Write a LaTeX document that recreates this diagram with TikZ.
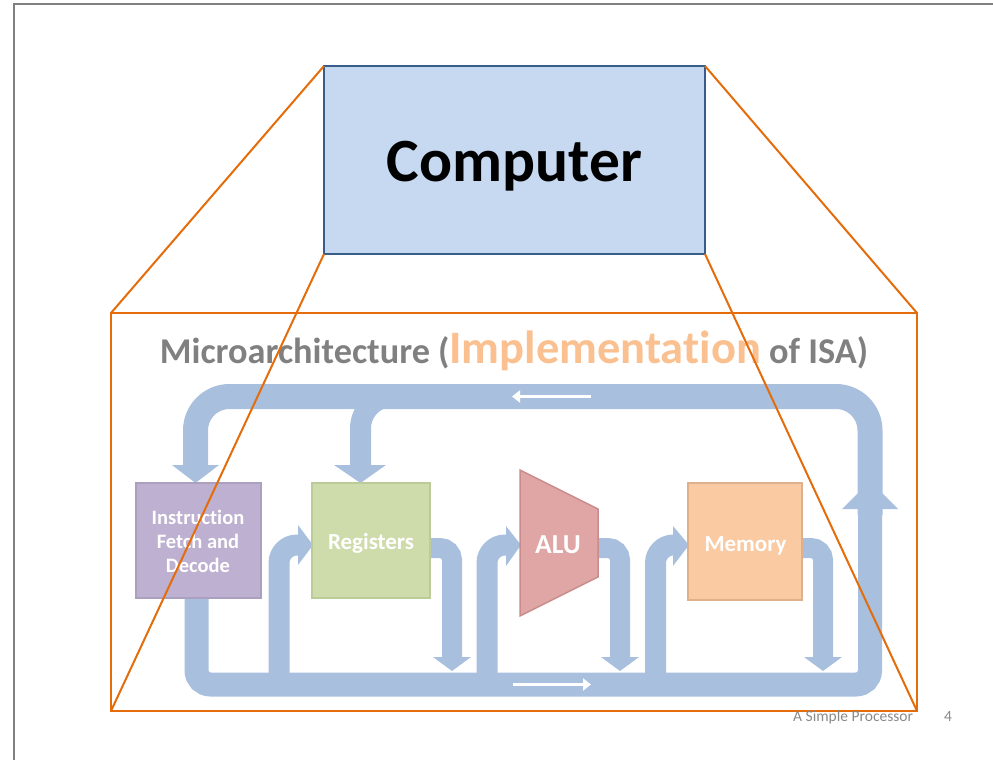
\documentclass[tikz,border=0pt]{standalone}
\usepackage{fontspec}
\setmainfont{Carlito}[Ligatures={NoCommon,NoContextual}]
\usetikzlibrary{arrows.meta}
\definecolor{bus}{RGB}{168,192,222}
\definecolor{orng}{RGB}{228,108,10}
\definecolor{framegray}{RGB}{128,128,128}
\definecolor{compfill}{RGB}{198,217,241}
\definecolor{compdraw}{RGB}{56,93,138}
\definecolor{iffill}{RGB}{190,176,208}
\definecolor{ifdraw}{RGB}{172,160,192}
\definecolor{regfill}{RGB}{206,220,172}
\definecolor{regdraw}{RGB}{188,204,152}
\definecolor{alufill}{RGB}{224,166,166}
\definecolor{aludraw}{RGB}{200,140,140}
\definecolor{memfill}{RGB}{250,202,162}
\definecolor{memdraw}{RGB}{222,176,140}
\definecolor{impl}{RGB}{250,192,144}
\definecolor{titlegray}{RGB}{128,128,128}
\definecolor{footgray}{RGB}{137,137,137}
\tikzset{
  unitbox/.style={anchor=north west, inner sep=0pt, outer sep=0pt, line width=1.5pt},
  unittext/.style={anchor=base, inner sep=0pt, text=white, font=\bfseries\fontsize{23}{25}\selectfont},
  busline/.style={draw=bus, line width=#1},
  bushead/.style={fill=bus},
  zoomline/.style={draw=orng, line width=2pt},
  whitearrow/.style={draw=white, line width=3pt, -{Triangle[width=12pt,length=8pt]}}
}
\begin{document}
\begin{tikzpicture}[x=1pt,y=-1pt]
\useasboundingbox (0,0) rectangle (993,760);
% slide frame
\draw[framegray, line width=2pt] (14,760) -- (14,4) -- (993,4);

% computer box
\node[draw=compdraw, fill=compfill, line width=2pt, anchor=north west, inner sep=0pt, outer sep=0pt,
      minimum width=381pt, minimum height=188pt] (comp) at (324,66) {};
\node[anchor=base, inner sep=0pt, font=\bfseries\fontsize{61.5}{66}\selectfont] (comptext) at (514.5,181) {Computer};

% title
\node[anchor=base, text=titlegray, inner sep=0pt, font=\bfseries\fontsize{36.3}{40}\selectfont] (title) at (514,363)
  {Microarchitecture (\textcolor{impl}{\fontsize{46.5}{50}\selectfont Implementat\kern0pt ion} of ISA)};

% ---- bus ----
% top bus
\draw[busline=25pt, rounded corners=34pt] (870,515) -- (870,396.5) -- (195.5,396.5) -- (195.5,466);
\fill[bushead] (172,465) -- (219,465) -- (195.5,483) -- cycle;
\draw[busline=21pt, rounded corners=32pt] (440,396.5) -- (360.5,396.5) -- (360.5,466);
\fill[bushead] (334,465) -- (386,465) -- (360.5,483) -- cycle;
% bottom bus
\draw[busline=24pt, rounded corners=14pt] (196.5,595) -- (196.5,684.5) -- (870,684.5) -- (870,505);
\fill[bushead] (842,509) -- (898,509) -- (870,481) -- cycle;
% inputs from bottom bus
\draw[busline=21pt, rounded corners=18pt] (279,684) -- (279,545) -- (300,545);
\fill[bushead] (298,525) -- (298,565) -- (313,545) -- cycle;
\draw[busline=21pt, rounded corners=18pt] (487,684) -- (487,545) -- (508,545);
\fill[bushead] (506,526) -- (506,566) -- (521,545) -- cycle;
\draw[busline=21pt, rounded corners=18pt] (655.5,684) -- (655.5,545) -- (675,545);
\fill[bushead] (673,526) -- (673,566) -- (689,545) -- cycle;
% outputs to bottom bus
\draw[busline=20pt, rounded corners=12pt] (429,548) -- (452,548) -- (452,658);
\fill[bushead] (433,657) -- (471,657) -- (452,671) -- cycle;
\draw[busline=20pt, rounded corners=12pt] (597,548) -- (620,548) -- (620,658);
\fill[bushead] (601,657) -- (639,657) -- (620,671) -- cycle;
\draw[busline=20pt, rounded corners=12pt] (801,548) -- (823,548) -- (823,658);
\fill[bushead] (804,657) -- (842,657) -- (823,671) -- cycle;

% white direction arrows
\coordinate (ta1) at (591,396.5);
\coordinate (ta2) at (512,396.5);
\coordinate (ba1) at (513,684.5);
\coordinate (ba2) at (591,684.5);
\draw[whitearrow] (ta1) -- (ta2);
\draw[whitearrow] (ba1) -- (ba2);

% units
\node[unitbox, draw=ifdraw, fill=iffill, minimum width=125pt, minimum height=115pt] (ifd) at (136,483) {};
\node[unittext, font=\bfseries\fontsize{20.5}{22}\selectfont] (ift1) at (198,524) {Instruct\kern0pt ion};
\node[unittext, font=\bfseries\fontsize{20.5}{22}\selectfont] (ift2) at (198,548) {Fetch and};
\node[unittext, font=\bfseries\fontsize{20.5}{22}\selectfont] (ift3) at (198,572) {Decode};
\node[unitbox, draw=regdraw, fill=regfill, minimum width=118pt, minimum height=115pt] (reg) at (312,483) {};
\node[unittext] (regt) at (371,549) {Registers};
\node[unitbox, draw=memdraw, fill=memfill, minimum width=114pt, minimum height=117pt] (mem) at (688,483) {};
\node[unittext] (memt) at (745.5,551) {Memory};
\filldraw[fill=alufill, draw=aludraw, line width=1.5pt] (520,470) -- (598,509) -- (598,577) -- (520,616) -- cycle;
\node[unittext, font=\bfseries\fontsize{27.5}{30}\selectfont] (alu) at (558,553) {ALU};

% zoom lines
\coordinate (ztl) at (111,313);
\coordinate (ztr) at (917,313);
\coordinate (zbl) at (111,711);
\coordinate (zbr) at (917,711);
\draw[zoomline] (ztl) -- (ztr) -- (zbr) -- (zbl) -- cycle;
\draw[zoomline] (comp.north west) -- (ztl);
\draw[zoomline] (comp.north east) -- (ztr);
\draw[zoomline] (comp.south west) -- (zbl);
\draw[zoomline] (comp.south east) -- (zbr);

% footer
\node[anchor=base west, inner sep=0pt, text=footgray, font=\fontsize{15.5}{17}\selectfont] (foot) at (793,721) {A Simple Processor};
\node[anchor=base, inner sep=0pt, text=footgray, font=\fontsize{15.5}{17}\selectfont] (page) at (948,721) {4};
\end{tikzpicture}
\end{document}
